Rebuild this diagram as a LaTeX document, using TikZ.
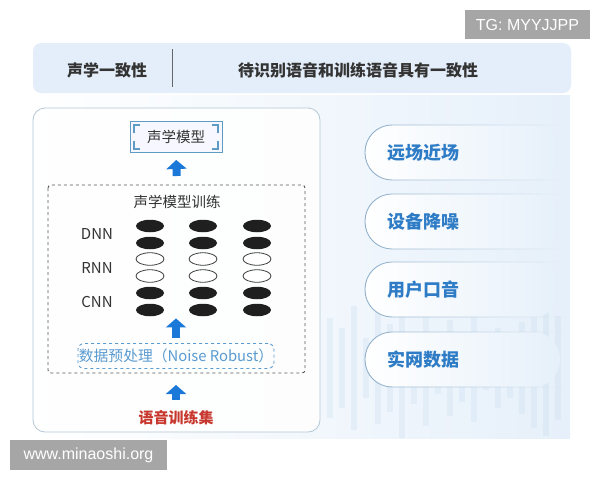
\documentclass[tikz,border=0pt]{standalone}
\usepackage{fontspec}
\setmainfont{Noto Sans CJK SC}
\newfontfamily\wmfont{Liberation Sans}
\usetikzlibrary{shapes.geometric,arrows.meta,positioning,fadings}
\definecolor{bannerblue}{HTML}{E4EEFA}
\definecolor{bgblue}{HTML}{E6F0FA}
\definecolor{barblue}{HTML}{C9DDF0}
\definecolor{panelline}{HTML}{B4C8D6}
\definecolor{darktext}{HTML}{333333}
\definecolor{arrowblue}{HTML}{1A78D8}
\definecolor{pillblue}{HTML}{2E7CC6}
\definecolor{pillline}{HTML}{8FAFCB}
\definecolor{modelline}{HTML}{5E9BC5}
\definecolor{prelineblue}{HTML}{5A9BD0}
\definecolor{setred}{HTML}{C8372D}
\definecolor{wmgray}{HTML}{A6A6A6}
\tikzset{
  cell/.style={ellipse, minimum width=28pt, minimum height=12.5pt, inner sep=0pt},
  full/.style={cell, fill=black!88},
  hollow/.style={cell, draw=black!75, line width=0.8pt, fill=white},
  uparrow/.style={arrowblue, line width=8pt, -{Triangle[width=20pt,length=9pt]}},
  pilltext/.style={anchor=west, text=pillblue, font=\fontsize{18}{20}\selectfont\bfseries},
  wmark/.style={fill=wmgray, text=white, inner sep=0pt, font=\wmfont\fontsize{16}{18}\selectfont}
}
\begin{document}
\begin{tikzpicture}[x=1pt,y=-1pt]
        \useasboundingbox (0,0) rectangle (600,480);
        % Background
        \fill[white] (0,0) rectangle (600,480);
        \shade[left color=white, right color=bgblue] (30,95) rectangle (570,438);
        % Sound bars
        \foreach \x/\h in {330/50, 342/40, 354/62, 366/30, 378/56, 390/44, 402/70, 414/36, 426/58, 438/26,
                           450/48, 462/34, 474/54, 486/22, 498/40, 510/30, 522/46, 534/60, 546/68, 558/52}
            \fill[barblue, opacity=0.3] (\x-3,368-\h) rectangle (\x+3,368+\h);
        % Banner
        \fill[bannerblue, rounded corners=8pt] (33,43) rectangle (571,93);
        \node[text=darktext, font=\fontsize{16}{18}\selectfont\bfseries] (ban1) at (107,70) {声学一致性};
        \node[text=darktext, font=\fontsize{16}{18}\selectfont\bfseries] (ban2) at (358,70) {待识别语音和训练语音具有一致性};
        \draw[black!60, line width=0.8pt] (172,49) -- (172,87);
        % Left panel
        \draw[panelline, fill=white, fill opacity=0.85, rounded corners=12pt, line width=0.8pt] (33,108) rectangle (320,432);
        % Acoustic model box
        \node[draw=modelline, fill=blue!3, line width=1pt, minimum width=92pt, minimum height=31pt,
              text=darktext, font=\fontsize{14.5}{16}\selectfont] (model) at (176,137) {声学模型};
        \foreach \sx/\sy in {1/1, -1/1, 1/-1, -1/-1}
            \draw[modelline, line width=1.3pt] ([shift={(-42*\sx,-4*\sy)}]model.center) -- ++(0,-8*\sy) -- ++(6*\sx,0);
        % Training box
        \draw[black!65, dashed, line width=0.9pt, rounded corners=3pt] (48,185) rectangle (305,373);
        \node[anchor=north, font=\fontsize{14}{16}\selectfont] (train) at (177,185) {\vphantom{声}};
        \node[text=darktext, font=\fontsize{14.5}{16}\selectfont] (traintitle) at (177,202) {声学模型训练};
        % Network layers
        \node[text=darktext, font=\fontsize{15}{16}\selectfont] (dnn) at (97,234) {DNN};
        \node[text=darktext, font=\fontsize{15}{16}\selectfont] (rnn) at (97,268) {RNN};
        \node[text=darktext, font=\fontsize{15}{16}\selectfont] (cnn) at (97,302) {CNN};
        \foreach \c/\x in {1/150, 2/203, 3/257} {
            \node[full] (e1\c) at (\x,226) {};
            \node[full] (e2\c) at (\x,243) {};
            \node[hollow] (e3\c) at (\x,259) {};
            \node[hollow] (e4\c) at (\x,276) {};
            \node[full] (e5\c) at (\x,293) {};
            \node[full] (e6\c) at (\x,310) {};
        }
        % Preprocessing
        \node[draw=prelineblue, dashed, line width=0.9pt, rounded corners=6pt, minimum width=196pt, minimum height=25pt,
              inner sep=0pt, text=prelineblue, font=\fontsize{14.8}{17}\selectfont] (pre) at (176,356) {数据预处理（Noise Robust）};
        \node[text=setred, font=\fontsize{15}{17}\selectfont\bfseries] (data) at (176,418) {语音训练集};
        % Arrows
        \draw[uparrow, shorten <=9pt, shorten >=7pt] (train.north) -- (model.south);
        \draw[uparrow, shorten <=5pt, shorten >=2pt] (pre.north) -- (pre.north |- e62.south);
        \draw[uparrow, shorten <=7pt, shorten >=12pt] (data.north) -- (pre.south |- 373,373);
        % Right pills
        \foreach \i/\y/\t in {1/153/远场近场, 2/222/设备降噪, 3/290/用户口音, 4/360/实网数据} {
            \shade[left color=white, right color=bgblue, rounded corners=27pt] (560,\y-28) -- (365,\y-28) -- (365,\y+27) -- (560,\y+27) -- cycle;
            \draw[pillline, line width=0.9pt, rounded corners=27pt, path fading=east] (565,\y-28) -- (365,\y-28) -- (365,\y+27) -- (565,\y+27);
            \node[pilltext] (pill\i) at (384,\y) {\t};
        }
        % Watermarks
        \node[wmark, minimum width=125pt, minimum height=29pt] (tg) at (527.5,24.5) {TG: MYYJJPP};
        \node[wmark, minimum width=157pt, minimum height=30pt] (www) at (88.5,455) {www.minaoshi.org};
\end{tikzpicture}
\end{document}
